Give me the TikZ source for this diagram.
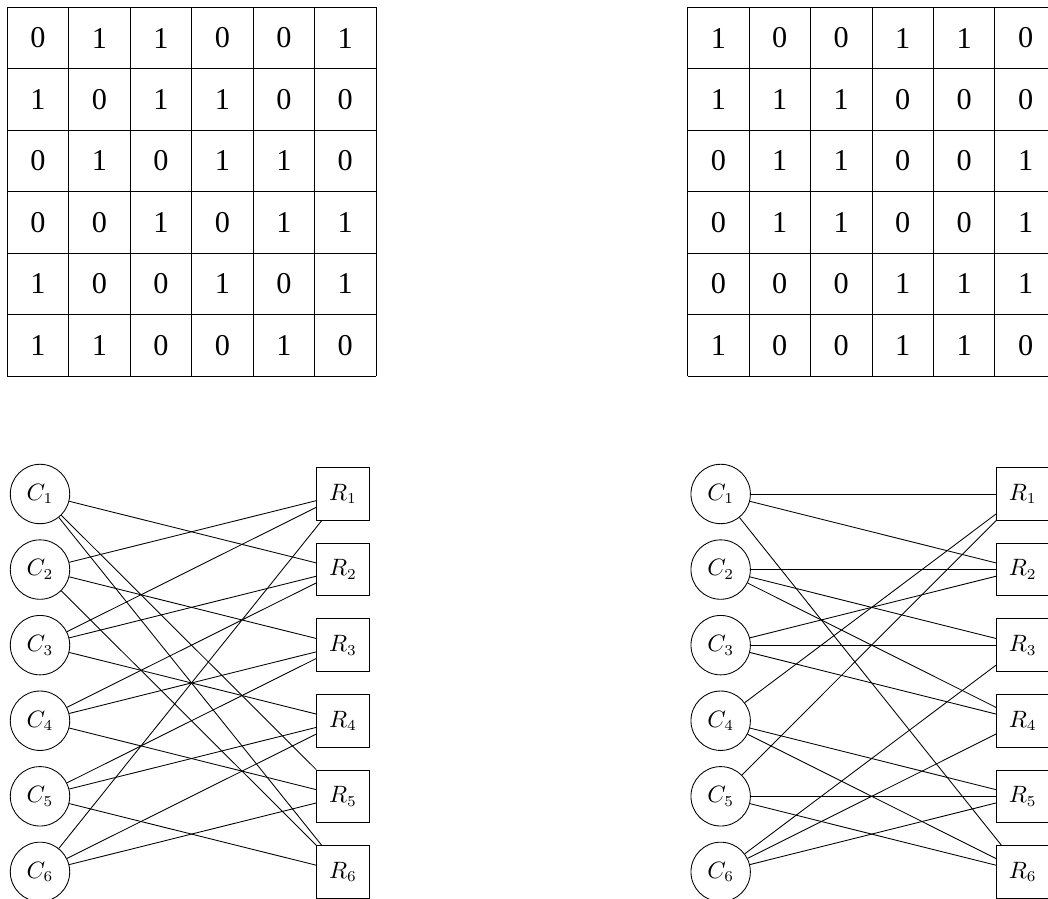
\documentclass[tikz,border=0pt]{standalone}
\usepackage{fontspec}
\setmainfont{Liberation Serif}
\tikzset{
  cell/.style={font=\fontsize{14}{16}\selectfont},
  colnode/.style={draw,circle,minimum size=0.967cm,inner sep=0pt,font=\fontsize{10.5}{12}\selectfont},
  rownode/.style={draw,rectangle,minimum size=0.855cm,inner sep=0pt,font=\fontsize{10.5}{12}\selectfont}
}
\begin{document}
\begin{tikzpicture}
\useasboundingbox (0,0) rectangle (17.055,-14.63);

\begin{scope}[shift={(0.119,-6.119)}]
\draw (0,0) grid (6,6);
\foreach \row [count=\r] in {{0,1,1,0,0,1},{1,0,1,1,0,0},{0,1,0,1,1,0},{0,0,1,0,1,1},{1,0,0,1,0,1},{1,1,0,0,1,0}}
    \foreach \v [count=\c] in \row
        \node[cell] (a\r\c) at (\c-0.5,6.5-\r) {\v};
\end{scope}

\begin{scope}[shift={(11.19,-6.119)}]
\draw (0,0) grid (6,6);
\foreach \row [count=\r] in {{1,0,0,1,1,0},{1,1,1,0,0,0},{0,1,1,0,0,1},{0,1,1,0,0,1},{0,0,0,1,1,1},{1,0,0,1,1,0}}
    \foreach \v [count=\c] in \row
        \node[cell] (b\r\c) at (\c-0.5,6.5-\r) {\v};
\end{scope}

\foreach \i in {1,...,6} {
    \node[colnode] (cl\i) at (0.651,-8.039-1.23*\i+1.23) {$C_{\i}$};
    \node[rownode] (rl\i) at (5.582,-8.039-1.23*\i+1.23) {$R_{\i}$};
    \node[colnode] (cr\i) at (11.728,-8.039-1.23*\i+1.23) {$C_{\i}$};
    \node[rownode] (rr\i) at (16.643,-8.039-1.23*\i+1.23) {$R_{\i}$};
}
% a one in row r, column c joins C_c to R_r
\foreach \c/\r in {1/2,1/5,1/6,2/1,2/3,2/6,3/1,3/2,3/4,4/2,4/3,4/5,5/3,5/4,5/6,6/1,6/4,6/5}
    \draw (cl\c) -- (rl\r);
\foreach \c/\r in {1/1,1/2,1/6,2/2,2/3,2/4,3/2,3/3,3/4,4/1,4/5,4/6,5/1,5/5,5/6,6/3,6/4,6/5}
    \draw (cr\c) -- (rr\r);
\end{tikzpicture}
\end{document}
